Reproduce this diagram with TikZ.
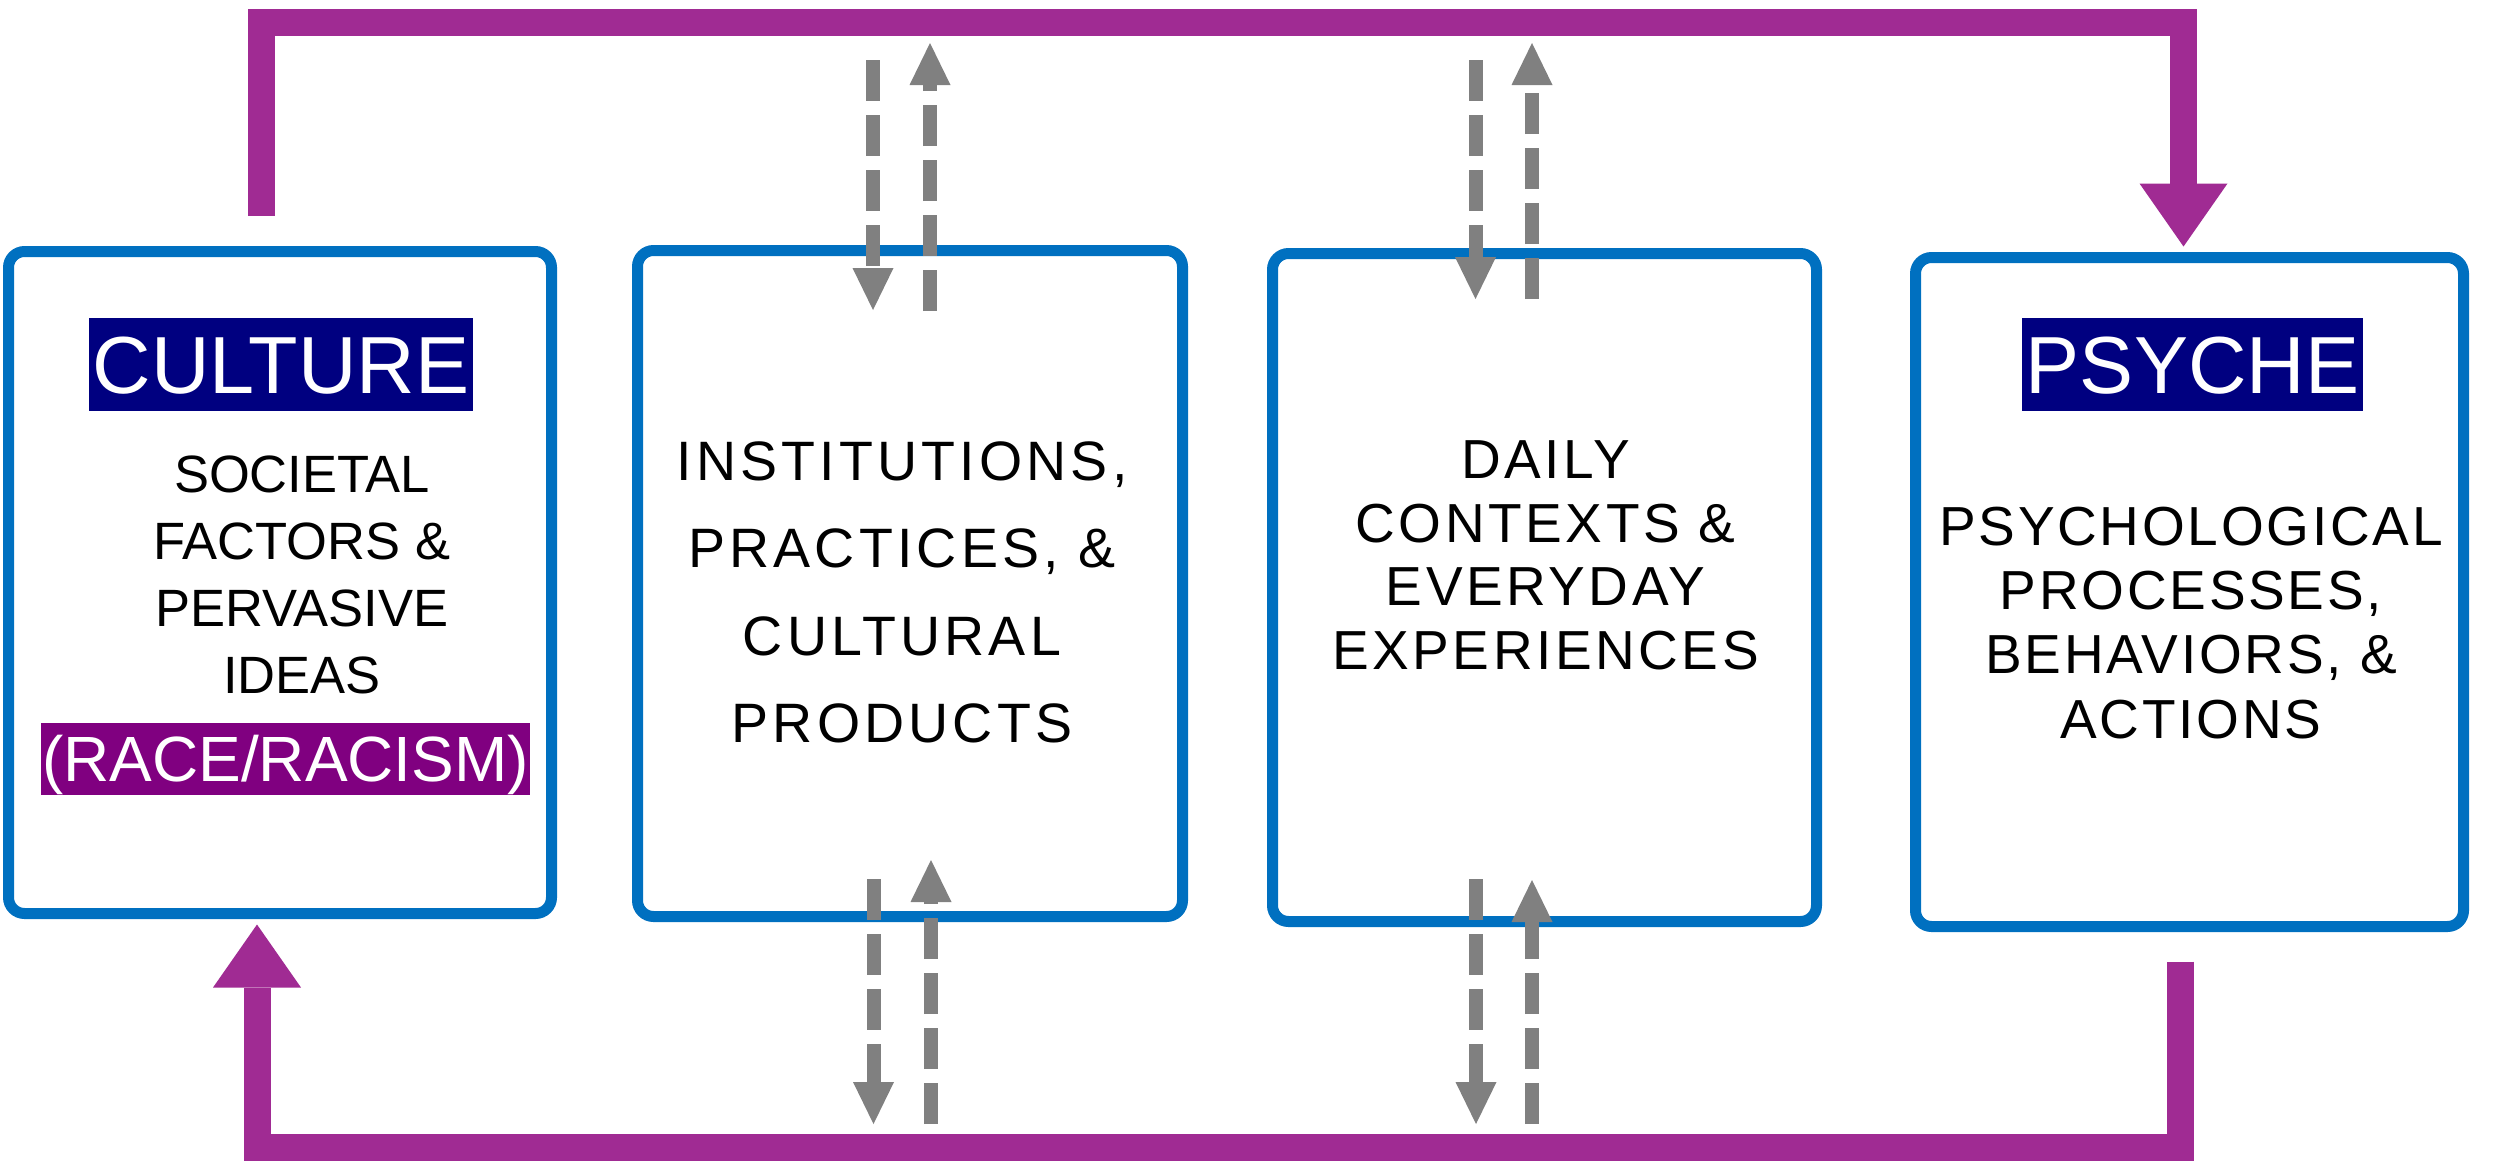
\documentclass[tikz,border=0pt]{standalone}
\usepackage{fontspec}
\setmainfont{Liberation Sans}
\usetikzlibrary{arrows.meta,calc}
\definecolor{boxblue}{RGB}{0,112,192}
\definecolor{navyhl}{RGB}{0,0,128}
\definecolor{purplehl}{RGB}{128,0,128}
\definecolor{linkpurple}{RGB}{160,43,147}
\definecolor{dashgray}{RGB}{128,128,128}
\begin{document}
\begin{tikzpicture}[x=0.1mm,y=-0.1mm,
  stagebox/.style={draw=boxblue, line width=1.1mm, rounded corners=1.6mm, inner sep=0pt, fill=white},
  loopline/.style={draw=linkpurple, line width=2.7mm, line join=miter,
     -{Triangle[length=6.3mm,width=8.8mm,line width=0pt]}},
  flowarrow/.style={draw=dashgray, line width=1.4mm, dash pattern=on 4.1mm off 1.4mm,
     -{Triangle[length=4.2mm,width=4.1mm,line width=0pt]}},
  bodytext/.style={anchor=north, align=center, inner sep=0pt, text=black},
  highlight/.style={text=white, inner ysep=0pt}
]
\useasboundingbox (0,0) rectangle (2500,1167);
\fill[white] (0,0) rectangle (2500,1167);

% boxes
\node[stagebox, minimum width=54.3mm, minimum height=66.2mm] (B1) at (280,582.5) {};
\node[stagebox, minimum width=54.5mm, minimum height=66.6mm] (B2) at (910,583.5) {};
\node[stagebox, minimum width=54.4mm, minimum height=66.8mm] (B3) at (1544.5,587.5) {};
\node[stagebox, minimum width=54.8mm, minimum height=66.9mm] (B4) at (2189.5,592) {};

% highlighted titles
\node[highlight, fill=navyhl, font=\fontsize{23.05pt}{27pt}\selectfont,
      inner xsep=0.4mm, text height=7.5mm, text depth=1.8mm] (hc) at (281,364.5) {CULTURE};
\node[highlight, fill=navyhl, font=\fontsize{23.05pt}{27pt}\selectfont,
      inner xsep=0.4mm, text height=7.5mm, text depth=1.8mm] (hp) at (2192.5,364.5) {PSYCHE};
\node[highlight, fill=purplehl, font=\fontsize{18.2pt}{21pt}\selectfont,
      inner xsep=0.15mm, text height=5.8mm, text depth=1.4mm] (hr) at (285.5,759) {(RACE/RACISM)};

% body texts
\node[bodytext, font=\fontsize{14.94pt}{19.06pt}\selectfont] (t1) at (302,455.5)
  {SOCIETAL\\FACTORS \&\\PERVASIVE\\IDEAS};
\node[bodytext, font=\fontsize{15.8pt}{24.85pt}\selectfont\addfontfeatures{LetterSpace=7.5}] (t2) at (902,441)
  {INSTITUTIONS,\\PRACTICES, \&\\CULTURAL\\PRODUCTS};
\node[bodytext, font=\fontsize{15.65pt}{18.2pt}\selectfont\addfontfeatures{LetterSpace=6.4}] (t3) at (1545.5,439.5)
  {DAILY\\CONTEXTS \&\\EVERYDAY\\EXPERIENCES};
\node[bodytext, font=\fontsize{15.65pt}{18.3pt}\selectfont\addfontfeatures{LetterSpace=5}] (t4) at (2191,506)
  {PSYCHOLOGICAL\\PROCESSES,\\BEHAVIORS, \&\\ACTIONS};

% gray dashed arrows (top)
\coordinate (d2s) at (873,60);    \coordinate (d2e) at (873,310);
\coordinate (u2s) at (930,311);   \coordinate (u2e) at (930,43);
\coordinate (d3s) at (1475.5,60); \coordinate (d3e) at (1475.5,299);
\coordinate (u3s) at (1532,299);  \coordinate (u3e) at (1532,43);
% gray dashed arrows (bottom)
\coordinate (bd2s) at (873.5,879); \coordinate (bd2e) at (873.5,1124);
\coordinate (bu2s) at (931,1124);  \coordinate (bu2e) at (931,860);
\coordinate (bd3s) at (1476,879);  \coordinate (bd3e) at (1476,1124);
\coordinate (bu3s) at (1532,1124); \coordinate (bu3e) at (1532,880);

\draw[flowarrow] (d2s) -- (d2e);
\draw[flowarrow] (u2s) -- (u2e);
\draw[flowarrow] (d3s) -- (d3e);
\draw[flowarrow] (u3s) -- (u3e);
\draw[flowarrow] (bd2s) -- (bd2e);
\draw[flowarrow] (bu2s) -- (bu2e);
\draw[flowarrow] (bd3s) -- (bd3e);
\draw[flowarrow] (bu3s) -- (bu3e);

% purple loop
\coordinate (cultop) at ([xshift=-1.85mm,yshift=3.05mm]B1.north);
\coordinate (psytip) at ([xshift=-0.6mm,yshift=0.55mm]B4.north);
\coordinate (toprow) at (0,22.5);
\draw[loopline] (cultop) -- (cultop |- toprow) -- (psytip |- toprow) -- (psytip);

\coordinate (psybot) at ([xshift=-0.9mm,yshift=-2.95mm]B4.south);
\coordinate (cultip) at ([xshift=-2.3mm,yshift=-0.55mm]B1.south);
\coordinate (botrow) at (0,1147.5);
\draw[loopline] (psybot) -- (psybot |- botrow) -- (cultip |- botrow) -- (cultip);
\end{tikzpicture}
\end{document}
